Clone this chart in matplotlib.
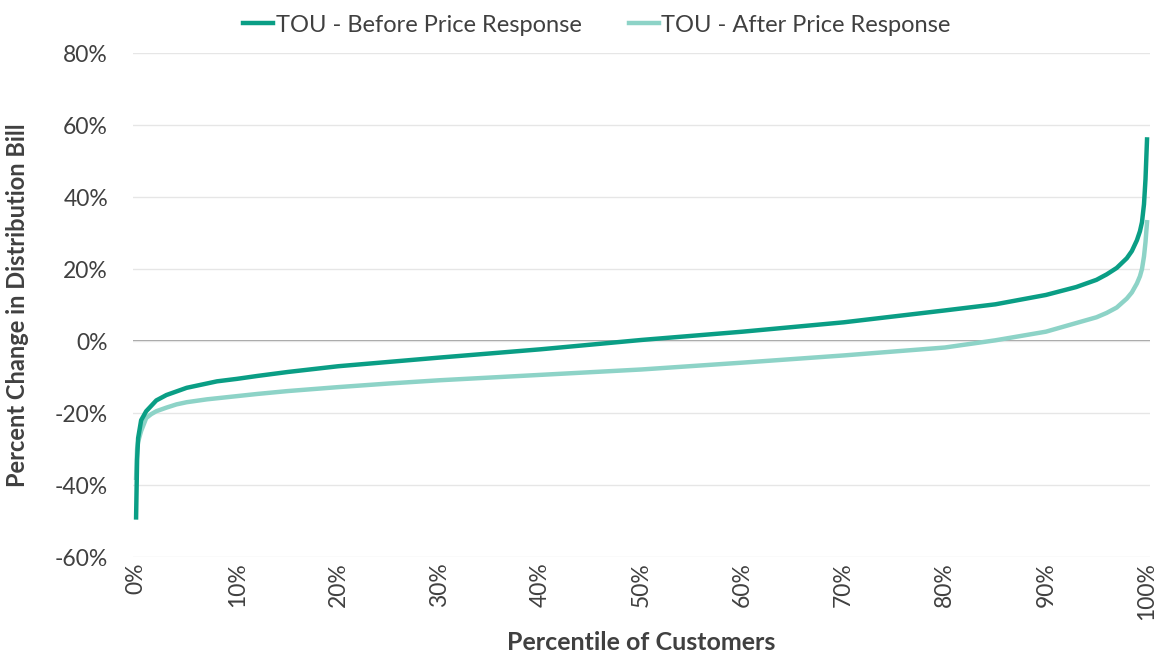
import matplotlib.pyplot as plt
from matplotlib.ticker import FuncFormatter

plt.rcParams['font.family'] = ['Lato', 'DejaVu Sans']

# percentile of customers (%)
pct = [0, 0.1, 0.2, 0.5, 1, 1.5, 2, 3, 4, 5, 6, 7, 8, 10, 12, 15, 20, 25, 30, 40, 50,
       60, 70, 80, 85, 90, 93, 95, 96, 97, 98, 98.5, 99, 99.3, 99.5, 99.7, 99.85, 100]

# percent change in distribution bill (%)
before = [-49, -33, -27, -22, -19.5, -18, -16.5, -15, -14, -13, -12.4, -11.8, -11.2, -10.5,
          -9.7, -8.6, -7, -5.8, -4.6, -2.3, 0.3, 2.6, 5.2, 8.5, 10.2, 12.8, 15, 17, 18.5,
          20.3, 23, 25, 28, 30.5, 33, 38, 45, 56]
after = [-38, -30, -28, -25, -21.4, -20.3, -19.5, -18.5, -17.6, -17, -16.6, -16.2, -15.9,
         -15.3, -14.7, -13.9, -12.8, -11.8, -10.9, -9.4, -7.9, -6, -4, -1.8, 0.2, 2.6, 5,
         6.6, 7.8, 9.3, 11.8, 13.5, 16, 18, 20, 23.5, 27.5, 33]

dark = '#0a9e85'
light = '#8dd3c7'

fig = plt.figure(figsize=(11.57, 6.55), dpi=100)
ax = fig.add_axes([0.115, 0.1496, 0.879, 0.7694])

ax.plot(pct, before, color=dark, lw=3.2, label='TOU - Before Price Response', zorder=3)
ax.plot(pct, after, color=light, lw=3.2, label='TOU - After Price Response', zorder=2)

ax.set_ylim(-60, 80)
ax.set_xlim(-0.3, 100.3)
ax.set_yticks(range(-60, 81, 20))
ax.set_xticks(range(0, 101, 10))
ax.yaxis.set_major_formatter(FuncFormatter(lambda v, p: f'{v:.0f}%'))
ax.xaxis.set_major_formatter(FuncFormatter(lambda v, p: f'{v:.0f}%'))

ax.grid(axis='y', color='#e6e6e6', lw=1)
ax.axhline(0, color='#8c8c8c', lw=1.2, zorder=1)
for s in ax.spines.values():
    s.set_visible(False)
ax.tick_params(length=0, labelsize=16.5, labelcolor='#404040')
ax.tick_params(axis='x', rotation=90, pad=4)
ax.tick_params(axis='y', pad=18)

ax.set_xlabel('Percentile of Customers', fontsize=18, fontweight='bold', color='#404040')
ax.set_ylabel('Percent Change in Distribution Bill', fontsize=17, fontweight='bold',
              color='#404040')
ax.xaxis.set_label_coords(0.5, -0.147)
ax.yaxis.set_label_coords(-0.102, 0.5)

fig.legend(loc='upper center', bbox_to_anchor=(0.516, 1.01), ncol=2, frameon=False,
           fontsize=17, handlelength=1.27, handletextpad=0.1, columnspacing=2.0,
           labelcolor='#404040')

fig.savefig('out.png', dpi=100)
